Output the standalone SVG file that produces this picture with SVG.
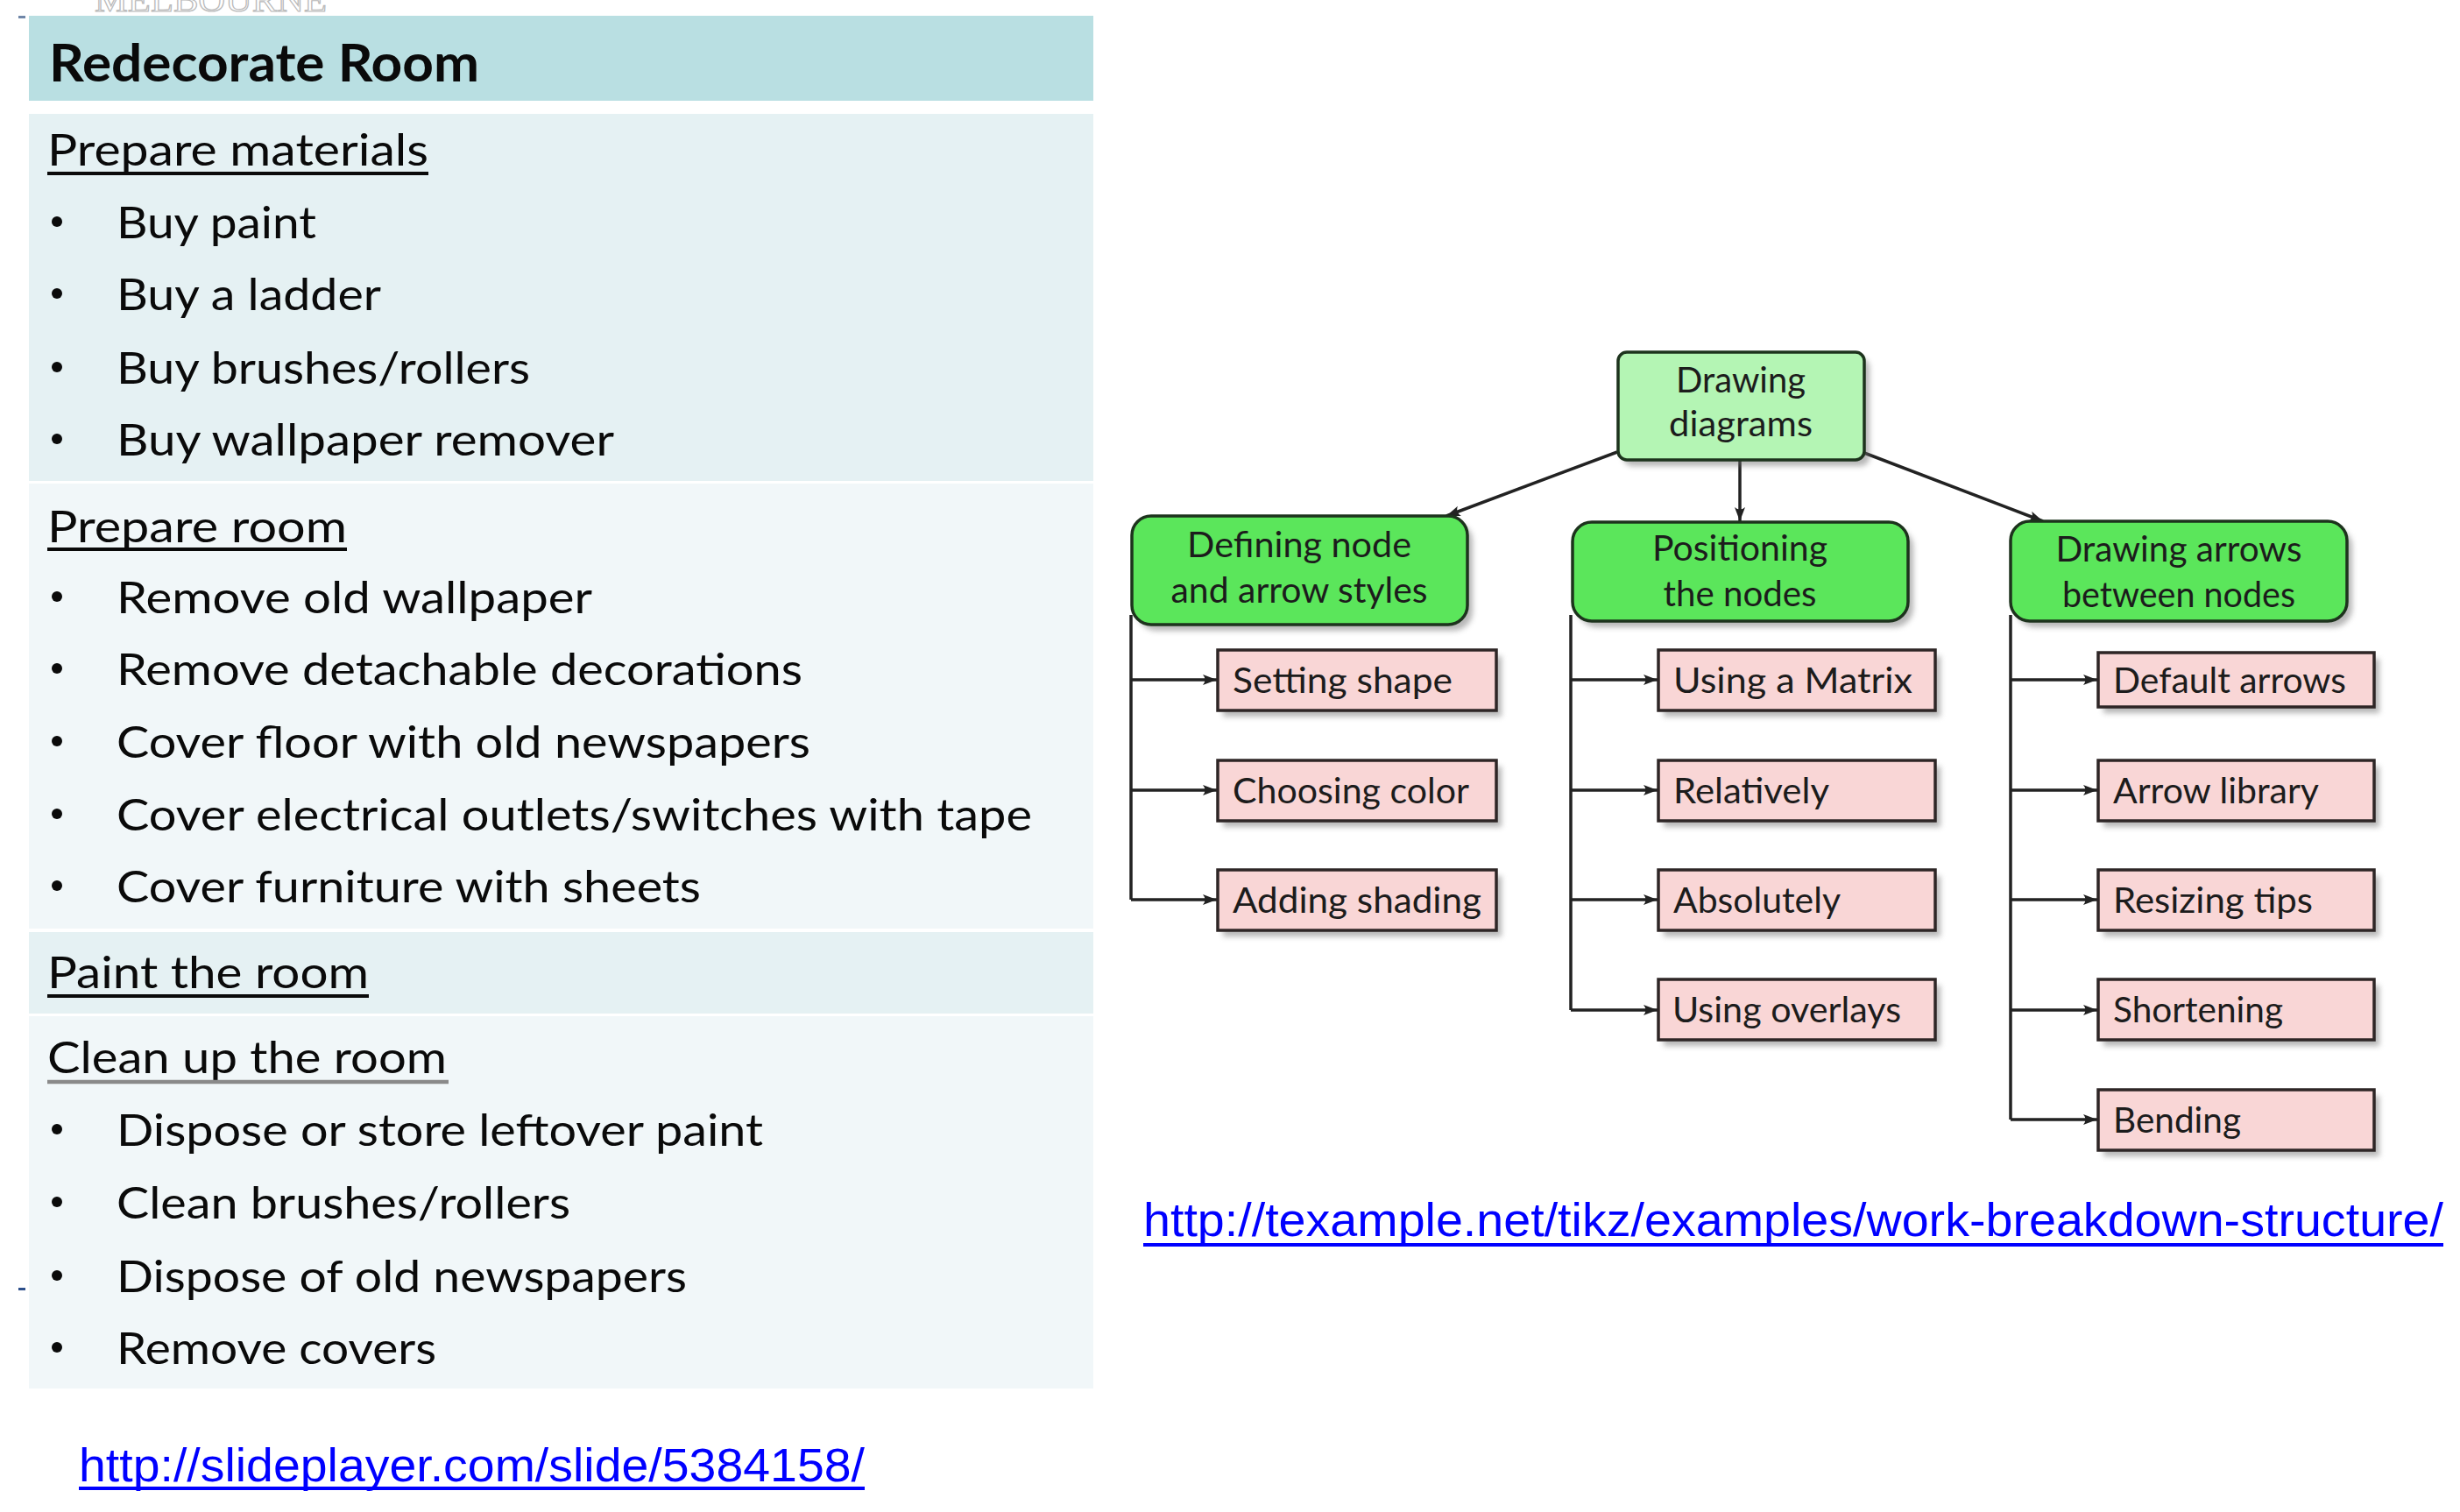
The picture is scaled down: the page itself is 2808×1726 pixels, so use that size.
<svg xmlns="http://www.w3.org/2000/svg" width="2808" height="1726" viewBox="0 0 2808 1726">
<defs>
<style>
.t{font-family:Lato,"Open Sans","Liberation Sans",sans-serif;font-size:51px;fill:#0a0a0a}
.ttl{font-family:Lato,"Open Sans","Liberation Sans",sans-serif;font-size:60px;font-weight:bold;fill:#0a0a0a}
.ul{stroke:#0a0a0a;stroke-width:4}
.bul{fill:#0a0a0a}
.d{font-family:Lato,"Noto Sans","Liberation Sans",sans-serif;font-size:40px;fill:#1c1c1c}
.dc{text-anchor:middle}
.link{font-family:"Liberation Sans",Arial,sans-serif;font-size:54px;fill:#0000FF}
.lul{stroke:#0000FF;stroke-width:4}
.leaf{fill:#F9D6D6;stroke:#2e2626;stroke-width:3.5}
.l1{fill:#5BE65B;stroke:#1d331d;stroke-width:3.5}
.root{fill:#B4F5B4;stroke:#1d331d;stroke-width:3.5}
.sh{fill:#6e6e6e;opacity:.5;filter:url(#blur)}
.conn{stroke:#222;stroke-width:3.5;fill:none}
.arr{marker-end:url(#ah)}
</style>
<filter id="blur" x="-10%" y="-20%" width="130%" height="150%"><feGaussianBlur stdDeviation="3"/></filter>
<marker id="ah" markerUnits="userSpaceOnUse" markerWidth="18" markerHeight="14" refX="16" refY="7" orient="auto"><path d="M0,1 L16,7 L0,13 Q5,7 0,1 Z" fill="#222"/></marker>
</defs>
<rect width="2808" height="1726" fill="#ffffff"/>

<!-- top artifacts -->
<text x="108" y="13" textLength="265" lengthAdjust="spacingAndGlyphs" style="font-family:'Liberation Serif',serif;font-size:40px;fill:#ffffff;stroke:#b8b8b8;stroke-width:1.2">MELBOURNE</text>
<rect x="21" y="18" width="8" height="3" fill="#6f86a8"/>
<rect x="21" y="1470" width="8" height="3" fill="#2d4f8a"/>

<!-- Left panel -->
<g id="title">
<rect x="33" y="18" width="1215" height="97" fill="#B9DFE2"/>
<text class="ttl" x="56" y="93" textLength="491" lengthAdjust="spacingAndGlyphs">Redecorate Room</text>
</g>

<g id="prepare-materials">
<rect x="33" y="130" width="1215" height="419" fill="#E5F1F3"/>
<text class="t" x="54" y="189" textLength="435" lengthAdjust="spacingAndGlyphs">Prepare materials</text>
<line class="ul" x1="54" y1="198" x2="489" y2="198"/>
<circle class="bul" cx="65" cy="253" r="6"/>
<text class="t" x="133" y="272" textLength="228" lengthAdjust="spacingAndGlyphs">Buy paint</text>
<circle class="bul" cx="65" cy="335" r="6"/>
<text class="t" x="133" y="354" textLength="302" lengthAdjust="spacingAndGlyphs">Buy a ladder</text>
<circle class="bul" cx="65" cy="419" r="6"/>
<text class="t" x="133" y="438" textLength="472" lengthAdjust="spacingAndGlyphs">Buy brushes/rollers</text>
<circle class="bul" cx="65" cy="501" r="6"/>
<text class="t" x="133" y="520" textLength="568" lengthAdjust="spacingAndGlyphs">Buy wallpaper remover</text>
</g>

<g id="prepare-room">
<rect x="33" y="552" width="1215" height="508" fill="#F1F7F9"/>
<text class="t" x="54" y="619" textLength="342" lengthAdjust="spacingAndGlyphs">Prepare room</text>
<line class="ul" x1="54" y1="627" x2="396" y2="627"/>
<circle class="bul" cx="65" cy="681" r="6"/>
<text class="t" x="133" y="700" textLength="543" lengthAdjust="spacingAndGlyphs">Remove old wallpaper</text>
<circle class="bul" cx="65" cy="763" r="6"/>
<text class="t" x="133" y="782" textLength="783" lengthAdjust="spacingAndGlyphs">Remove detachable decorations</text>
<circle class="bul" cx="65" cy="846" r="6"/>
<text class="t" x="133" y="865" textLength="792" lengthAdjust="spacingAndGlyphs">Cover floor with old newspapers</text>
<circle class="bul" cx="65" cy="929" r="6"/>
<text class="t" x="133" y="948" textLength="1045" lengthAdjust="spacingAndGlyphs">Cover electrical outlets/switches with tape</text>
<circle class="bul" cx="65" cy="1011" r="6"/>
<text class="t" x="133" y="1030" textLength="667" lengthAdjust="spacingAndGlyphs">Cover furniture with sheets</text>
</g>

<g id="paint-room">
<rect x="33" y="1064" width="1215" height="93" fill="#E5F1F3"/>
<text class="t" x="54" y="1128" textLength="367" lengthAdjust="spacingAndGlyphs">Paint the room</text>
<line class="ul" x1="54" y1="1137" x2="421" y2="1137"/>
</g>

<g id="clean-up">
<rect x="33" y="1160" width="1215" height="425" fill="#F1F7F9"/>
<text class="t" x="54" y="1225" textLength="456" lengthAdjust="spacingAndGlyphs">Clean up the room</text>
<line x1="54" y1="1235" x2="512" y2="1235" stroke="#8a8a8a" stroke-width="4.5"/>
<circle class="bul" cx="65" cy="1289" r="6"/>
<text class="t" x="133" y="1308" textLength="738" lengthAdjust="spacingAndGlyphs">Dispose or store leftover paint</text>
<circle class="bul" cx="65" cy="1372" r="6"/>
<text class="t" x="133" y="1391" textLength="518" lengthAdjust="spacingAndGlyphs">Clean brushes/rollers</text>
<circle class="bul" cx="65" cy="1456" r="6"/>
<text class="t" x="133" y="1475" textLength="651" lengthAdjust="spacingAndGlyphs">Dispose of old newspapers</text>
<circle class="bul" cx="65" cy="1538" r="6"/>
<text class="t" x="133" y="1557" textLength="365" lengthAdjust="spacingAndGlyphs">Remove covers</text>
</g>

<g id="link-slideplayer">
<text class="link" x="90" y="1691" textLength="897" lengthAdjust="spacingAndGlyphs">http://slideplayer.com/slide/5384158/</text>
<line class="lul" x1="90" y1="1699" x2="987" y2="1699"/>
</g>

<!-- Right diagram: connectors -->
<g id="connectors">
<line class="conn arr" x1="1846" y1="516" x2="1651" y2="589"/>
<line class="conn arr" x1="1986" y1="525" x2="1986" y2="595"/>
<line class="conn arr" x1="2128" y1="517" x2="2332" y2="595"/>
<line class="conn" x1="1291" y1="702" x2="1291" y2="1027"/>
<line class="conn arr" x1="1291" y1="776" x2="1389" y2="776"/>
<line class="conn arr" x1="1291" y1="902" x2="1389" y2="902"/>
<line class="conn arr" x1="1291" y1="1027" x2="1389" y2="1027"/>
<line class="conn" x1="1793" y1="702" x2="1793" y2="1153"/>
<line class="conn arr" x1="1793" y1="776" x2="1892" y2="776"/>
<line class="conn arr" x1="1793" y1="902" x2="1892" y2="902"/>
<line class="conn arr" x1="1793" y1="1027" x2="1892" y2="1027"/>
<line class="conn arr" x1="1793" y1="1153" x2="1892" y2="1153"/>
<line class="conn" x1="2295" y1="702" x2="2295" y2="1278"/>
<line class="conn arr" x1="2295" y1="776" x2="2394" y2="776"/>
<line class="conn arr" x1="2295" y1="902" x2="2394" y2="902"/>
<line class="conn arr" x1="2295" y1="1027" x2="2394" y2="1027"/>
<line class="conn arr" x1="2295" y1="1153" x2="2394" y2="1153"/>
<line class="conn arr" x1="2295" y1="1278" x2="2394" y2="1278"/>
</g>

<!-- Nodes -->
<g id="root">
<rect class="sh" x="1853" y="409" width="281" height="123" rx="10"/>
<rect class="root" x="1847" y="402" width="281" height="123" rx="10"/>
<text class="d dc" x="1987" y="448" textLength="148" lengthAdjust="spacingAndGlyphs">Drawing</text>
<text class="d dc" x="1987" y="498" textLength="164" lengthAdjust="spacingAndGlyphs">diagrams</text>
</g>

<g id="n-defining">
<rect class="sh" x="1298" y="596" width="383" height="124" rx="22"/>
<rect class="l1" x="1292" y="589" width="383" height="124" rx="22"/>
<text class="d dc" x="1483" y="636" textLength="256" lengthAdjust="spacingAndGlyphs">Defining node</text>
<text class="d dc" x="1483" y="688" textLength="293" lengthAdjust="spacingAndGlyphs">and arrow styles</text>
</g>

<g id="n-positioning">
<rect class="sh" x="1801" y="603" width="383" height="113" rx="22"/>
<rect class="l1" x="1795" y="596" width="383" height="113" rx="22"/>
<text class="d dc" x="1986" y="640" textLength="200" lengthAdjust="spacingAndGlyphs">Positioning</text>
<text class="d dc" x="1986" y="692" textLength="175" lengthAdjust="spacingAndGlyphs">the nodes</text>
</g>

<g id="n-arrows">
<rect class="sh" x="2301" y="602" width="384" height="114" rx="22"/>
<rect class="l1" x="2295" y="595" width="384" height="114" rx="22"/>
<text class="d dc" x="2487" y="641" textLength="281" lengthAdjust="spacingAndGlyphs">Drawing arrows</text>
<text class="d dc" x="2487" y="693" textLength="266" lengthAdjust="spacingAndGlyphs">between nodes</text>
</g>

<g id="leaf-setting-shape">
<rect class="sh" x="1396" y="749" width="318" height="69"/>
<rect class="leaf" x="1390" y="742" width="318" height="69"/>
<text class="d" x="1407" y="791" textLength="251" lengthAdjust="spacingAndGlyphs">Setting shape</text>
</g>
<g id="leaf-choosing-color">
<rect class="sh" x="1396" y="875" width="318" height="69"/>
<rect class="leaf" x="1390" y="868" width="318" height="69"/>
<text class="d" x="1407" y="917" textLength="270" lengthAdjust="spacingAndGlyphs">Choosing color</text>
</g>
<g id="leaf-adding-shading">
<rect class="sh" x="1396" y="1000" width="318" height="69"/>
<rect class="leaf" x="1390" y="993" width="318" height="69"/>
<text class="d" x="1407" y="1042" textLength="284" lengthAdjust="spacingAndGlyphs">Adding shading</text>
</g>

<g id="leaf-using-matrix">
<rect class="sh" x="1899" y="749" width="316" height="69"/>
<rect class="leaf" x="1893" y="742" width="316" height="69"/>
<text class="d" x="1910" y="791" textLength="273" lengthAdjust="spacingAndGlyphs">Using a Matrix</text>
</g>
<g id="leaf-relatively">
<rect class="sh" x="1899" y="875" width="316" height="69"/>
<rect class="leaf" x="1893" y="868" width="316" height="69"/>
<text class="d" x="1910" y="917" textLength="178" lengthAdjust="spacingAndGlyphs">Relatively</text>
</g>
<g id="leaf-absolutely">
<rect class="sh" x="1899" y="1000" width="316" height="69"/>
<rect class="leaf" x="1893" y="993" width="316" height="69"/>
<text class="d" x="1910" y="1042" textLength="191" lengthAdjust="spacingAndGlyphs">Absolutely</text>
</g>
<g id="leaf-using-overlays">
<rect class="sh" x="1899" y="1125" width="316" height="69"/>
<rect class="leaf" x="1893" y="1118" width="316" height="69"/>
<text class="d" x="1909" y="1167" textLength="261" lengthAdjust="spacingAndGlyphs">Using overlays</text>
</g>

<g id="leaf-default-arrows">
<rect class="sh" x="2401" y="752" width="315" height="62"/>
<rect class="leaf" x="2395" y="745" width="315" height="62"/>
<text class="d" x="2412" y="791" textLength="266" lengthAdjust="spacingAndGlyphs">Default arrows</text>
</g>
<g id="leaf-arrow-library">
<rect class="sh" x="2401" y="875" width="315" height="69"/>
<rect class="leaf" x="2395" y="868" width="315" height="69"/>
<text class="d" x="2412" y="917" textLength="235" lengthAdjust="spacingAndGlyphs">Arrow library</text>
</g>
<g id="leaf-resizing-tips">
<rect class="sh" x="2401" y="1000" width="315" height="69"/>
<rect class="leaf" x="2395" y="993" width="315" height="69"/>
<text class="d" x="2412" y="1042" textLength="228" lengthAdjust="spacingAndGlyphs">Resizing tips</text>
</g>
<g id="leaf-shortening">
<rect class="sh" x="2401" y="1125" width="315" height="69"/>
<rect class="leaf" x="2395" y="1118" width="315" height="69"/>
<text class="d" x="2412" y="1167" textLength="194" lengthAdjust="spacingAndGlyphs">Shortening</text>
</g>
<g id="leaf-bending">
<rect class="sh" x="2401" y="1251" width="315" height="69"/>
<rect class="leaf" x="2395" y="1244" width="315" height="69"/>
<text class="d" x="2412" y="1293" textLength="146" lengthAdjust="spacingAndGlyphs">Bending</text>
</g>

<g id="link-texample">
<text class="link" x="1305" y="1411" textLength="1484" lengthAdjust="spacingAndGlyphs">http://texample.net/tikz/examples/work-breakdown-structure/</text>
<line class="lul" x1="1305" y1="1421" x2="2789" y2="1421"/>
</g>
</svg>
